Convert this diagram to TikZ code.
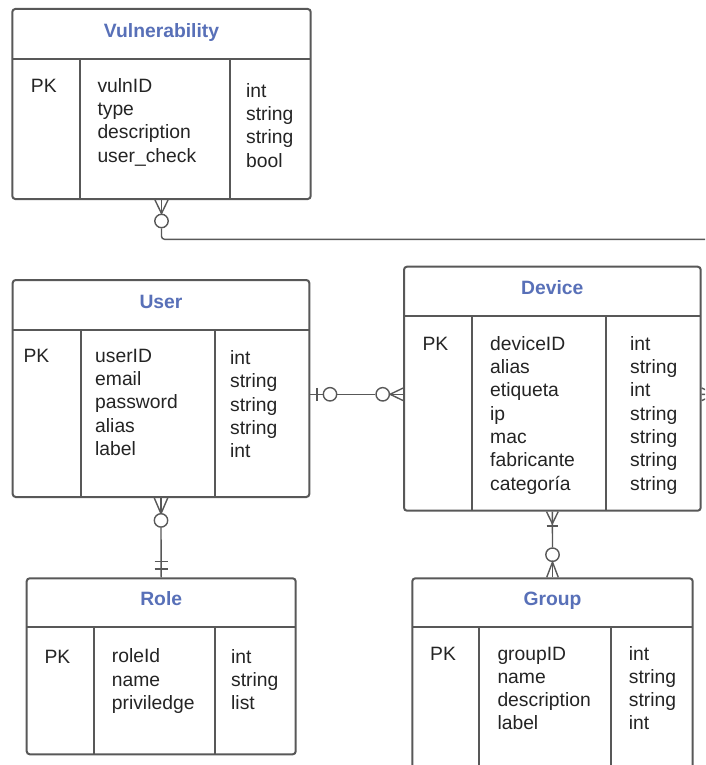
\documentclass[tikz,border=0pt]{standalone}
\usepackage{fontspec}
\setmainfont{Liberation Sans}
\usetikzlibrary{fit,calc}
\definecolor{ttl}{RGB}{88,112,184}
\definecolor{ln}{RGB}{88,88,88}
\definecolor{txt}{RGB}{36,36,36}
\tikzset{
  tbl/.style={draw=ln, line width=2pt, rounded corners=3pt, inner sep=0pt, fill=white},
  sep/.style={draw=ln, line width=2pt},
  ttlnode/.style={font=\fontsize{19.3}{23.3}\selectfont\bfseries, text=ttl, anchor=base, inner sep=0pt},
  fld/.style={font=\fontsize{19.3}{23.3}\selectfont, text=txt, anchor=base west, inner sep=0pt},
  conn/.style={draw=ln, line width=1.4pt},
  ring/.style={circle, draw=ln, line width=1.4pt, fill=white, minimum size=13.4pt, inner sep=0pt},
}
% one text node per line, baselines 23.3pt apart
\newcommand{\tblrows}[4]{%
  \foreach \t [count=\i] in {#4}
    \node[fld] (#1\i) at (#2, {#3+(\i-1)*23.3}) {\t};}
% entity table: name, corners, header line, two column dividers
\newcommand{\entity}[8]{%
  \node[tbl, fit={(#2,#3) (#4,#5)}] (#1) {};
  \draw[sep] (#2,#6) -- (#4,#6);
  \draw[sep] (#7,#6) -- (#7,#5);
  \draw[sep] (#8,#6) -- (#8,#5);}
\begin{document}
\begin{tikzpicture}[x=1pt,y=-1pt]
\useasboundingbox (0,0) rectangle (705,765);
\clip (0,0) rectangle (705,765);
\fill[white] (0,0) rectangle (705,765);

% ---- Vulnerability ----
\entity{vul}{12.3}{9}{310.7}{199}{58.7}{80}{229.5}
\node[ttlnode] (vulT) at (161.5,37.5) {Vulnerability};
\node[fld] (vulPK) at (30.7,92.3) {PK};
\tblrows{vulF}{97.3}{92.3}{vulnID,type,description,user\_check}
\tblrows{vulY}{246}{97.3}{int,string,string,bool}

% ---- User ----
\entity{usr}{12.7}{280}{309.3}{497}{330.3}{80.7}{214.7}
\node[ttlnode] (usrT) at (161,308) {User};
\node[fld] (usrPK) at (23.3,362.3) {PK};
\tblrows{usrF}{95}{362.3}{userID,email,password,alias,label}
\tblrows{usrY}{230}{364.6}{int,string,string,string,int}

% ---- Device ----
\entity{dev}{404}{266.7}{700.7}{510.7}{316}{472.3}{606}
\node[ttlnode] (devT) at (552.3,294.6) {Device};
\node[fld] (devPK) at (422.3,350.6) {PK};
\tblrows{devF}{490}{350.3}{deviceID,alias,etiqueta,ip,mac,fabricante,categoría}
\tblrows{devY}{630}{350.3}{int,string,int,string,string,string,string}

% ---- Role ----
\entity{rol}{26.7}{578.3}{295.7}{754.3}{627.3}{94.3}{215}
\node[ttlnode] (rolT) at (161.2,605.6) {Role};
\node[fld] (rolPK) at (44.3,663) {PK};
\tblrows{rolF}{111.7}{662.8}{roleId,name,priviledge}
\tblrows{rolY}{231}{663}{int,string,list}

% ---- Group ----
\entity{grp}{412.3}{578.3}{692.7}{800}{627.3}{479.3}{611}
\node[ttlnode] (grpT) at (552.5,605.6) {Group};
\node[fld] (grpPK) at (430,660) {PK};
\tblrows{grpF}{497.3}{660}{groupID,name,description,label}
\tblrows{grpY}{628.7}{660}{int,string,string,int}

% ---- Vulnerability (many, optional) -> Device ----
\coordinate (vA) at ($(vul.south)+(0,13.5)$);
\draw[conn] ($(vul.south)+(-6.5,0)$) -- (vA) -- ($(vul.south)+(6.5,0)$);
\draw[conn] (vul.south) -- (vA);
\node[ring] (vR) at ($(vul.south)+(0,21)$) {};
\draw[conn, rounded corners=3pt] (vR.south) |- (740,239.3) |- (dev.east |- 0,394.3);
\coordinate (dA) at ($(dev.east |- 0,394.3)+(13.5,0)$);
\draw[conn] ($(dev.east |- 0,394.3)+(0,-6.3)$) -- (dA) -- ($(dev.east |- 0,394.3)+(0,6.3)$);

% ---- User (one, optional) -- Device (many, optional) ----
\node[ring] (ud1) at (330,394.3) {};
\node[ring] (ud2) at (382.7,394.3) {};
\draw[conn] (usr.east |- ud1) -- (ud1.west);
\draw[conn] ($(usr.east |- ud1)+(6.7,-6.5)$) -- ++(0,13);
\draw[conn] (ud1.east) -- (ud2.west);
\draw[conn] ($(dev.west |- ud2)+(0,-6.2)$) -- (ud2.east) -- ($(dev.west |- ud2)+(0,6.2)$);
\draw[conn] (ud2.east) -- (dev.west |- ud2);

% ---- User (many, optional) -- Role (exactly one) ----
\coordinate (urA) at ($(usr.south)+(0,15.7)$);
\draw[conn] ($(usr.south)+(-6.7,0)$) -- (urA) -- ($(usr.south)+(6.7,0)$);
\draw[conn] (usr.south) -- (urA);
\node[ring] (urR) at ($(usr.south)+(0,22.4)$) {};
\draw[conn] (urR.south) -- (rol.north);
\draw[conn] ($(rol.north)+(-6.7,-15.6)$) -- ++(13.4,0);
\draw[conn] ($(rol.north)+(-6.7,-8.3)$) -- ++(13.4,0);

% ---- Device (one or many) -- Group (many, optional) ----
\coordinate (dgA) at ($(dev.south)+(0,12)$);
\draw[conn] ($(dev.south)+(-5.8,0)$) -- (dgA) -- ($(dev.south)+(5.8,0)$);
\draw[conn] ($(dev.south)+(-5.8,14.3)$) -- ++(11.6,0);
\node[ring] (dgR) at ($(grp.north)+(0,-22.6)$) {};
\draw[conn] (dev.south) -- (dgR.north);
\draw[conn] ($(grp.north)+(-5.8,0)$) -- (dgR.south) -- ($(grp.north)+(5.8,0)$);
\draw[conn] (dgR.south) -- (grp.north);
\end{tikzpicture}
\end{document}
